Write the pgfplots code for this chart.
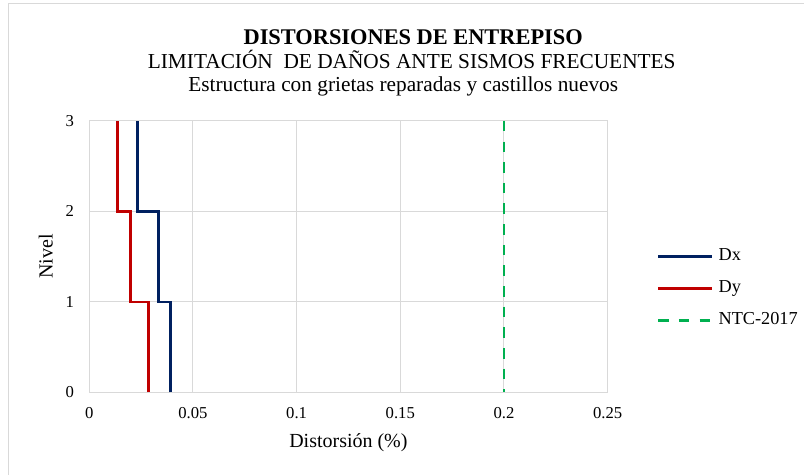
\documentclass[border=0pt]{standalone}
\usepackage{pgfplots}
\pgfplotsset{compat=1.18}
\usepackage{fontspec}
\setmainfont{Liberation Serif}
\definecolor{gridgray}{HTML}{D9D9D9}
\definecolor{dxblue}{HTML}{002060}
\definecolor{dyred}{HTML}{C00000}
\definecolor{ntcgreen}{HTML}{00B050}
\begin{document}
\begin{tikzpicture}
\path[fill=white] (0pt,0pt) rectangle (603pt,-356.25pt);
\draw[gridgray, line width=0.75pt] (6.75pt,-356.25pt) -- (6.75pt,-3pt) -- (603pt,-3pt);
\node[anchor=base, inner sep=0pt] at (310.1pt,-33.75pt) {\fontsize{16.8}{19}\selectfont\bfseries DISTORSIONES DE ENTREPISO};
\node[anchor=base, inner sep=0pt] at (309pt,-51.75pt) {\fontsize{16}{19}\selectfont LIMITACIÓN\ \ DE DAÑOS ANTE SISMOS FRECUENTES};
\node[anchor=base, inner sep=0pt] at (302.6pt,-69pt) {\fontsize{16}{19}\selectfont Estructura con grietas reparadas y castillos nuevos};
\begin{axis}[
  at={(66.98pt,-294.5pt)}, anchor=south west,
  scale only axis, width=389pt, height=203.8pt,
  xmin=0, xmax=0.25, ymin=0, ymax=3,
  xtick={0,0.05,0.1,0.15,0.2,0.25}, ytick={0,1,2,3},
  grid=major, major grid style={draw=gridgray, line width=0.75pt},
  axis line style={draw=gridgray, line width=0.75pt},
  tick style={draw=none},
  /pgf/number format/.cd, fixed, precision=2, assume math mode=true, /pgfplots/.cd,
  tick label style={font=\fontsize{12.5}{15}\selectfont, text=black},
  xticklabel style={yshift=-8pt},
  yticklabel style={xshift=-7.9pt},
  xlabel={Distorsión (\%)}, ylabel={Nivel},
  label style={font=\fontsize{15}{18}\selectfont},
  xlabel style={at={(axis description cs:0.5,-0.2046)}, anchor=base},
  ylabel style={at={(axis description cs:-0.0707,0.5)}, anchor=base},
  legend image code/.code={\draw[#1] (0pt,0pt) -- (40.5pt,0pt);},
  legend style={at={(axis description cs:1.0945,0.3817)}, anchor=west,
    draw=none, fill=none, inner sep=0pt, column sep=3.75pt, row sep=12pt,
    nodes={inner sep=0pt, anchor=west, text height=9pt, text depth=3pt},
    font=\fontsize{13.7}{16}\selectfont},
  legend cell align=left,
]
\addplot[dxblue, line width=2.1pt] coordinates {(0.0392,0) (0.0392,1) (0.0333,1) (0.0333,2) (0.0233,2) (0.0233,3)};
\addlegendentry{Dx}
\addplot[dyred, line width=2.1pt] coordinates {(0.0286,0) (0.0286,1) (0.0200,1) (0.0200,2) (0.0135,2) (0.0135,3)};
\addlegendentry{Dy}
\addplot[ntcgreen, line width=2.1pt, dash pattern=on 7.9pt off 7.6pt] coordinates {(0.2,3) (0.2,0)};
\addlegendentry{NTC-2017}
\end{axis}
\end{tikzpicture}
\end{document}
